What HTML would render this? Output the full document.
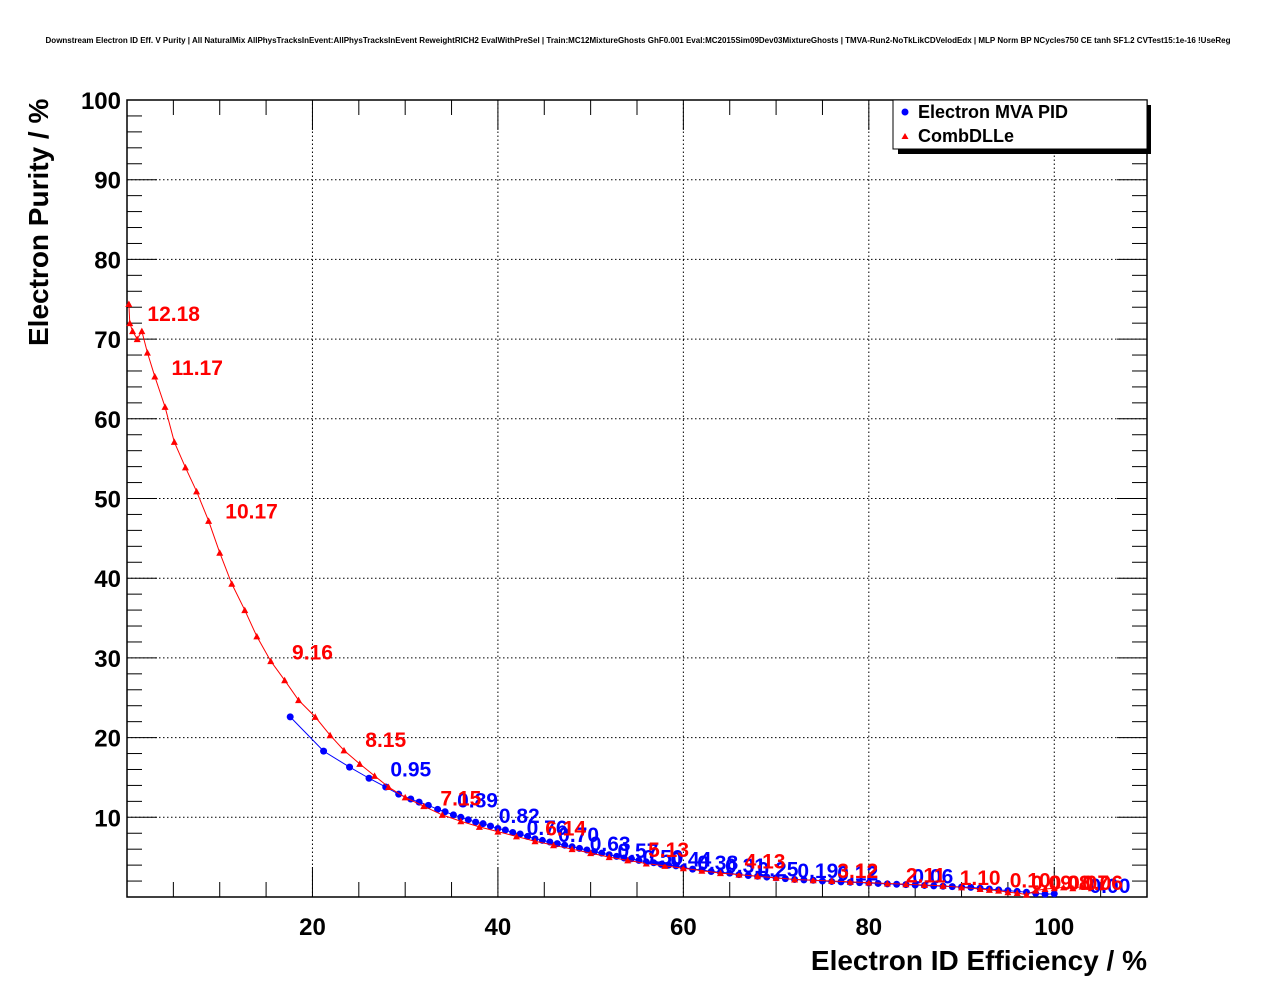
<!DOCTYPE html>
<html><head><meta charset="utf-8"><style>
html,body{margin:0;padding:0;background:#fff;}
svg{display:block;font-family:"Liberation Sans",Arial,sans-serif;}
</style></head><body>
<svg id="chart" width="1276" height="996">
<text x="638" y="43" font-size="8" font-weight="bold" text-anchor="middle">Downstream Electron ID Eff. V Purity | All NaturalMix AllPhysTracksInEvent:AllPhysTracksInEvent ReweightRICH2 EvalWithPreSel | Train:MC12MixtureGhosts GhF0.001 Eval:MC2015Sim09Dev03MixtureGhosts | TMVA-Run2-NoTkLikCDVelodEdx | MLP Norm BP NCycles750 CE tanh SF1.2 CVTest15:1e-16 !UseReg</text>
<g id="grid"></g>
<g id="axes"></g>
<g id="series"></g>
<text x="1147" y="970" font-size="28" font-weight="bold" text-anchor="end">Electron ID Efficiency / %</text>
<text transform="translate(48,346) rotate(-90)" font-size="28" font-weight="bold">Electron Purity / %</text>
<g>
<rect x="898" y="105" width="253" height="49" fill="#000"/>
<rect x="893" y="100" width="254" height="49" fill="#fff" stroke="#000" stroke-width="1"/>
<circle cx="905" cy="112" r="3.5" fill="#0000ff"/>
<text x="918" y="118" font-size="18" font-weight="bold">Electron MVA PID</text>
<path d="M901.5,139 L905,133 L908.5,139 Z" fill="#ff0000"/>
<text x="918" y="142" font-size="18" font-weight="bold">CombDLLe</text>
</g>
</svg>
<script>
const xTicks=[20,40,60,80,100];
const yTicks=[10,20,30,40,50,60,70,80,90,100];
const redX=[0.2,0.3,0.6,1.1,1.6,2.2,3.0,4.1,5.1,6.3,7.5,8.8,10.0,11.3,12.7,14.0,15.5,17.0,18.5,20.3,21.9,23.4,25.1,26.7,28.2,30,32,34,36,38,40,42,44,46,48,50,52,54,56,58,60,62,64,66,68,70,72,74,76,78,80,82,84,86,88,90,92,93,94,95,96,97,98,99,100,101,102,103,104,105];
const redY=[74.4,72,71,70,71,68.3,65.3,61.5,57.1,53.9,50.9,47.2,43.2,39.3,36.0,32.7,29.6,27.2,24.7,22.6,20.3,18.4,16.7,15.2,13.8,12.5,11.4,10.3,9.5,8.8,8.2,7.6,7.0,6.5,6.0,5.5,5.0,4.6,4.2,3.9,3.6,3.3,3.0,2.8,2.6,2.4,2.2,2.1,2.0,1.9,1.8,1.7,1.6,1.5,1.4,1.2,1.0,0.9,0.8,0.6,0.5,0.3,0.8,1.0,1.1,1.2,1.1,1.3,1.1,1.2];
const blueX=[17.6,21.2,24.0,26.1,27.9,29.3,30.6,31.5,32.5,33.5,34.3,35.2,36,36.8,37.6,38.4,39.2,40,40.8,41.6,42.4,43.2,44,44.8,45.6,46.4,47.2,48,48.8,49.6,50.4,51.2,52,52.8,53.6,54.4,55.2,56,56.8,57.6,58.4,59.2,60,61,62,63,64,65,66,67,68,69,70,71,72,73,74,75,76,77,78,79,80,81,82,83,84,85,86,87,88,89,90,91,92,93,94,95,96,97,98,99,100];
const blueY=[22.6,18.3,16.3,14.9,13.8,12.9,12.3,11.9,11.5,11.0,10.7,10.3,10.0,9.7,9.4,9.2,8.9,8.6,8.4,8.1,7.9,7.6,7.3,7.1,6.9,6.7,6.5,6.3,6.1,5.9,5.7,5.5,5.3,5.1,4.9,4.8,4.6,4.4,4.3,4.1,4.0,3.9,3.7,3.5,3.4,3.2,3.1,3.0,2.8,2.7,2.6,2.5,2.4,2.3,2.2,2.15,2.1,2.0,1.95,1.9,1.85,1.8,1.75,1.7,1.65,1.6,1.55,1.5,1.45,1.4,1.35,1.3,1.25,1.2,1.1,1.0,0.9,0.8,0.7,0.6,0.45,0.35,0.4];
const redLabels=["12.18","11.17","10.17","9.16","8.15","7.15","6.14","5.13","4.13","3.12","2.11","1.10","0.10","0.09","0.08","0.07","0.06"];
const redLabelX=[2.2,4.8,10.6,17.8,25.7,33.8,45.1,56.2,66.6,76.6,84.0,89.8,95.2,97.5,99.5,101.5,103];
const redLabelY=[72.3,65.5,47.5,29.8,18.8,11.5,7.7,5.0,3.6,2.4,1.8,1.5,1.2,0.9,0.9,0.9,0.9];
const blueLabels=["0.95","0.89","0.82","0.76","0.70","0.63","0.57","0.50","0.44","0.38","0.31","0.25","0.19","0.12","0.06","0.00"];
const blueLabelX=[28.4,35.6,40.1,43.1,46.5,49.9,52.9,55.6,58.6,61.5,64.5,68.0,72.3,76.6,84.7,103.8];
const blueLabelY=[15.1,11.2,9.3,7.8,6.9,5.8,4.9,4.1,3.8,3.4,3.0,2.6,2.4,2.1,1.7,0.5];
const X0=127,X1=1147,Y0=897,Y1=100,XMAX=110,YMAX=100;
const sx=v=>X0+(v/XMAX)*(X1-X0);
const sy=v=>Y0-(v/YMAX)*(Y0-Y1);
const NS="http://www.w3.org/2000/svg";
function mk(tag,parent,attrs){const e=document.createElementNS(NS,tag);for(const k in attrs)e.setAttribute(k,attrs[k]);parent.appendChild(e);return e;}
const grid=document.getElementById('grid'),axes=document.getElementById('axes'),ser=document.getElementById('series');
xTicks.forEach(t=>{const l=mk('line',grid,{x1:sx(t),x2:sx(t),y1:Y0,y2:Y1,stroke:'#000','stroke-width':1,'stroke-dasharray':'1.5,2.5'});
});
yTicks.forEach(t=>{const l=mk('line',grid,{x1:X0,x2:X1,y1:sy(t),y2:sy(t),stroke:'#000','stroke-width':1,'stroke-dasharray':'1.5,2.5'});
});
const fr=mk('rect',axes,{x:X0,y:Y1,width:X1-X0,height:Y0-Y1,fill:'none',stroke:'#000','stroke-width':1.5});

for(let v=0;v<=XMAX;v+=5){const len=(v%20===0)?30:15;
mk('line',axes,{x1:sx(v),x2:sx(v),y1:Y0,y2:Y0-len,stroke:'#000','stroke-width':1});
mk('line',axes,{x1:sx(v),x2:sx(v),y1:Y1,y2:Y1+len,stroke:'#000','stroke-width':1});}
for(let v=0;v<=YMAX;v+=2){const len=(v%10===0)?30:15;
mk('line',axes,{x1:X0,x2:X0+len,y1:sy(v),y2:sy(v),stroke:'#000','stroke-width':1});
mk('line',axes,{x1:X1,x2:X1-len,y1:sy(v),y2:sy(v),stroke:'#000','stroke-width':1});}
xTicks.forEach(t=>{const e=mk('text',axes,{x:sx(t),y:935,'font-size':24,'font-weight':'bold','text-anchor':'middle'});e.textContent=t;
});
yTicks.forEach(t=>{const e=mk('text',axes,{x:121,y:sy(t)+9,'font-size':24,'font-weight':'bold','text-anchor':'end'});e.textContent=t;
});
function series(xs,ys,col,kind,name){
const pl=mk('polyline',ser,{points:xs.map((x,i)=>sx(x)+','+sy(ys[i])).join(' '),fill:'none',stroke:col,'stroke-width':1});

xs.forEach((x,i)=>{const cx=sx(x),cy=sy(ys[i]);let m;
if(kind==='c')m=mk('circle',ser,{cx:cx,cy:cy,r:3.5,fill:col});
else m=mk('path',ser,{d:`M${cx-3.5},${cy+3} L${cx},${cy-3.5} L${cx+3.5},${cy+3} Z`,fill:col});
});}
series(blueX,blueY,'#0000ff','c','mva-pid');
series(redX,redY,'#ff0000','t','comb-dlle');
function labels(ts,xs,ys,col,name){ts.forEach((t,i)=>{const e=mk('text',ser,{x:sx(xs[i]),y:sy(ys[i]),'font-size':21,'font-weight':'bold',fill:col});e.textContent=t;
});}
labels(blueLabels,blueLabelX,blueLabelY,'#0000ff','mva-pid');
labels(redLabels,redLabelX,redLabelY,'#ff0000','comb-dlle');
</script>
</body></html>
